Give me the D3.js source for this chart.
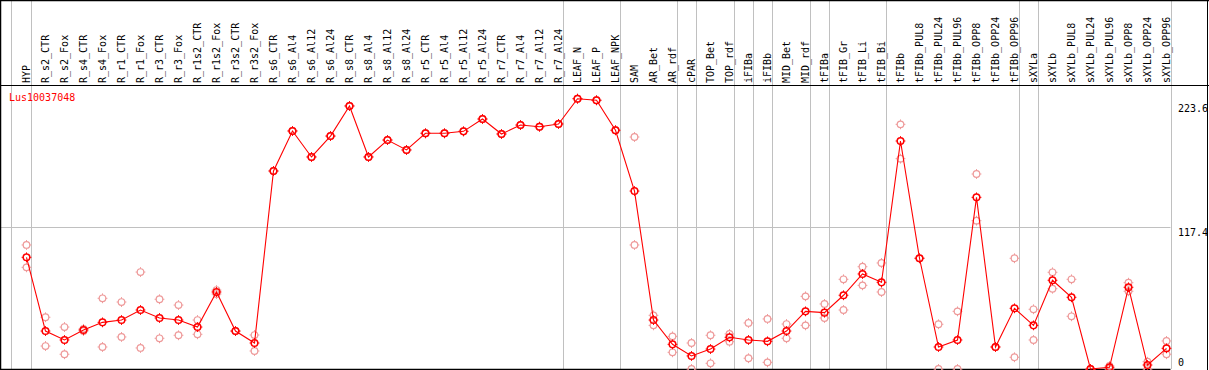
<!DOCTYPE html>
<html><head><meta charset="utf-8">
<script src="https://cdn.jsdelivr.net/npm/d3@7"></script>
<style>body{margin:0;background:#fff}svg{display:block}</style>
</head><body>
<script>
const categories = ["HYP","R_s2_CTR","R_s2_Fox","R_s4_CTR","R_s4_Fox","R_r1_CTR","R_r1_Fox","R_r3_CTR","R_r3_Fox","R_r1s2_CTR","R_r1s2_Fox","R_r3s2_CTR","R_r3s2_Fox","R_s6_CTR","R_s6_Al4","R_s6_Al12","R_s6_Al24","R_s8_CTR","R_s8_Al4","R_s8_Al12","R_s8_Al24","R_r5_CTR","R_r5_Al4","R_r5_Al12","R_r5_Al24","R_r7_CTR","R_r7_Al4","R_r7_Al12","R_r7_Al24","LEAF_N","LEAF_P","LEAF_NPK","SAM","AR_Bet","AR_rdf","cPAR","TOP_Bet","TOP_rdf","iFIBa","iFIBb","MID_Bet","MID_rdf","tFIBa","tFIB_Gr","tFIB_Li","tFIB_Bi","tFIBb","tFIBb_PUL8","tFIBb_PUL24","tFIBb_PUL96","tFIBb_OPP8","tFIBb_OPP24","tFIBb_OPP96","sXYLa","sXYLb","sXYLb_PUL8","sXYLb_PUL24","sXYLb_PUL96","sXYLb_OPP8","sXYLb_OPP24","sXYLb_OPP96"];

const meanValues = [92.4,31.4,24.0,32.3,38.6,40.5,48.8,42.2,40.5,34.7,63.7,31.4,21.5,163.8,196.9,175.4,192.7,217.6,175.4,189.4,181.2,195.0,195.0,196.6,206.8,194.4,201.8,200.4,202.7,223.6,222.3,197.5,147.2,40.5,20.4,10.8,16.5,26.2,24.0,22.9,31.4,47.7,46.6,61.0,78.6,71.7,188.6,91.6,18.2,24.0,142.0,18.2,50.2,36.1,73.4,59.3,0,1.4,67.6,3.3,17.1];

const replicateA = [102.6,42.8,34.7,33.2,58.5,55.4,80.2,57.7,52.9,40.5,65.3,31.4,28.1,163.8,196.9,175.4,192.7,217.6,175.4,189.4,181.2,195.0,195.0,196.6,206.8,194.4,201.8,200.4,202.7,223.6,222.3,197.5,191.9,44.4,27.0,21.5,27.9,29.0,38.1,41.4,37.2,60.1,53.8,74.2,84.6,87.7,202.4,91.6,37.0,47.7,161.3,18.2,91.6,49.4,80.0,74.2,0,2.5,71.4,6.0,23.2];

const replicateB = [84.1,19.0,12.2,31.4,18.2,26.5,17.4,25.4,27.9,28.7,62.0,31.4,14.9,163.8,196.9,175.4,192.7,217.6,175.4,189.4,181.2,195.0,195.0,196.6,206.8,194.4,201.8,200.4,202.7,223.6,222.3,197.5,102.6,36.1,13.8,0,4.7,22.6,8.9,5.5,25.4,36.1,42.2,48.8,69.2,63.7,174.0,91.6,0,0,122.7,18.2,9.7,24.0,66.4,43.6,0,0,64.3,0,12.2];

const yTickValues = [0, 117.4, 223.6];
const yTickLabels = ["0", "117.4", "223.6"];
const groupEnds = ["HYP","R_r7_Al24","LEAF_NPK","AR_rdf","cPAR","TOP_rdf","iFIBa","iFIBb","MID_rdf","tFIBa","tFIB_Bi","tFIBb_OPP96","sXYLa","sXYLb_OPP96"];
const geneName = "Lus10037048";

const W = 1209, H = 370;
const mono = "'DejaVu Sans Mono', 'Liberation Mono', monospace";
const red = "#ff0000", pink = "#ee9a9a", grey = "#c0c0c0";

const svg = d3.select("body").append("svg").attr("width", W).attr("height", H);

const x = d3.scalePoint().domain(categories).range([26.5, 26.5 + 19 * (categories.length - 1)]);
const y = d3.scaleLinear().domain([0, 223.6]).range([369, 98.7]);

const plotRight = x(categories[categories.length - 1]) + 4;

// horizontal grid at 117.4
svg.append("line").attr("x1", 0).attr("x2", plotRight).attr("y1", Math.round(y(117.4)) + 0.5).attr("y2", Math.round(y(117.4)) + 0.5)
  .attr("stroke", grey).attr("stroke-width", 1);

// vertical group lines
const vx = [x(categories[0]) - 16].concat(groupEnds.map(c => x(c) + 4));
svg.selectAll("line.v").data(vx).enter().append("line").attr("class", "v")
  .attr("x1", d => Math.round(d) + 0.5).attr("x2", d => Math.round(d) + 0.5)
  .attr("y1", 0).attr("y2", 369).attr("stroke", grey).attr("stroke-width", 1);

// frame
svg.append("line").attr("x1", 0).attr("x2", W).attr("y1", 0.5).attr("y2", 0.5).attr("stroke", "#000").attr("stroke-width", 1.5);
svg.append("line").attr("x1", 0).attr("x2", W).attr("y1", 85.5).attr("y2", 85.5).attr("stroke", "#000").attr("stroke-width", 1);
svg.append("line").attr("x1", 0.5).attr("x2", 0.5).attr("y1", 0).attr("y2", H).attr("stroke", "#000").attr("stroke-width", 1.5);
svg.append("line").attr("x1", 1207.5).attr("x2", 1207.5).attr("y1", 0).attr("y2", H).attr("stroke", "#000").attr("stroke-width", 1);
svg.append("line").attr("x1", 0).attr("x2", plotRight).attr("y1", 369.5).attr("y2", 369.5).attr("stroke", "#000").attr("stroke-width", 1.5);

// header labels
svg.selectAll("text.cat").data(categories).enter().append("text").attr("class", "cat")
  .attr("transform", d => `translate(${x(d) + 3.5},83) rotate(-90)`)
  .attr("font-family", mono).attr("font-size", 10).attr("fill", "#000")
  .text(d => d);

// y labels
svg.selectAll("text.yt").data(yTickValues).enter().append("text").attr("class", "yt")
  .attr("x", 1178)
  .attr("y", (d, i) => d === 0 ? y(d) - 3 : y(d) + (i === 2 ? 13 : 9))
  .attr("font-family", mono).attr("font-size", 10).attr("fill", "#000")
  .text((d, i) => yTickLabels[i]);

// gene name
svg.append("text").attr("x", 9).attr("y", 101).attr("font-family", mono).attr("font-size", 10)
  .attr("fill", red).text(geneName);

function marker(g, cx, cy, color, sw) {
  g.append("circle").attr("cx", cx).attr("cy", cy).attr("r", 3.3).attr("fill", "none").attr("stroke", color).attr("stroke-width", sw);
  [[0,-1],[0,1],[-1,0],[1,0]].forEach(([dx, dy]) => {
    g.append("line").attr("x1", cx + dx * 3.3).attr("y1", cy + dy * 3.3)
      .attr("x2", cx + dx * 4.9).attr("y2", cy + dy * 4.9).attr("stroke", color).attr("stroke-width", 1);
  });
}

const repG = svg.append("g");
[replicateA, replicateB].forEach(arr => {
  arr.forEach((v, i) => marker(repG, x(categories[i]), y(v), pink, 1.2));
});

const line = d3.line().x((d, i) => x(categories[i])).y(d => y(d));
svg.append("path").datum(meanValues).attr("d", line).attr("fill", "none").attr("stroke", red).attr("stroke-width", 1.1);

const mainG = svg.append("g");
meanValues.forEach((v, i) => marker(mainG, x(categories[i]), y(v), red, 1.5));
</script>
</body></html>
